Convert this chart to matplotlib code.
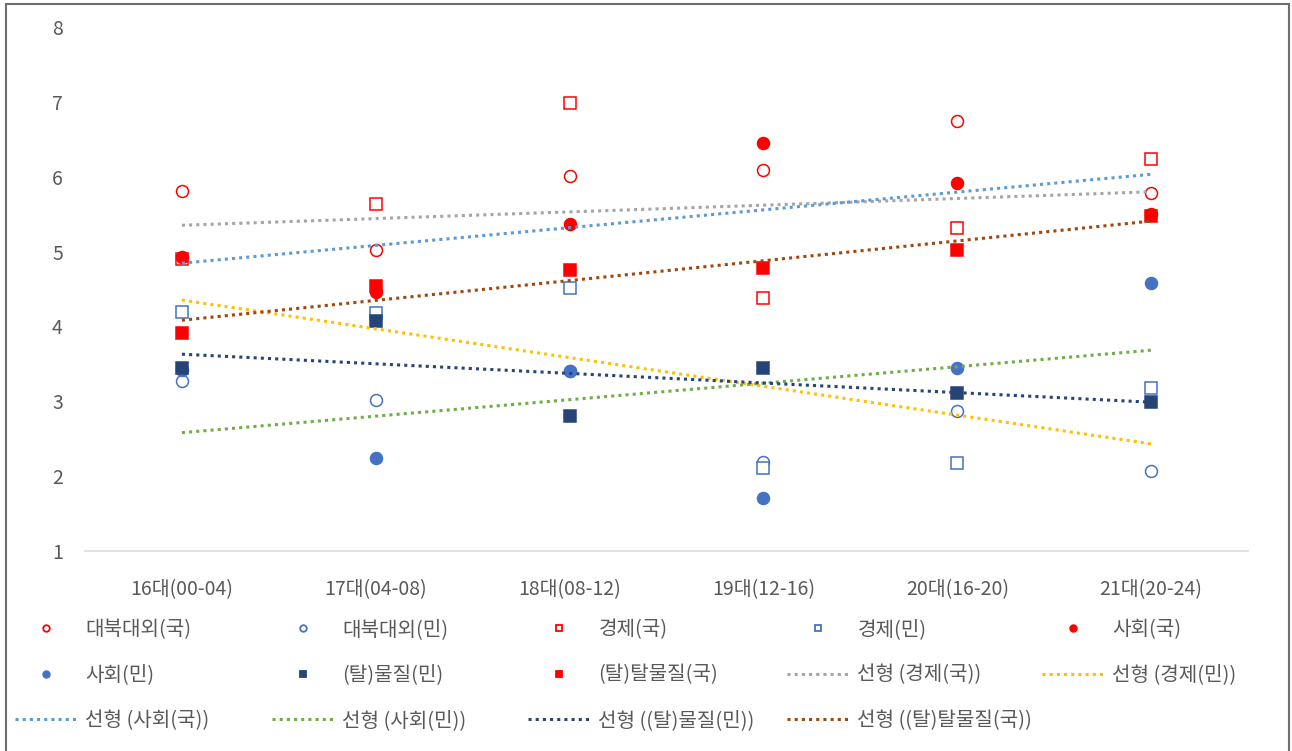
import numpy as np
import matplotlib
matplotlib.use("Agg")
import matplotlib.pyplot as plt
from matplotlib.lines import Line2D
from matplotlib.patches import Rectangle

plt.rcParams['font.family'] = ['Noto Sans CJK KR', 'DejaVu Sans']

# ---- data ----
categories = ["16대(00-04)", "17대(04-08)", "18대(08-12)", "19대(12-16)", "20대(16-20)", "21대(20-24)"]

north_foreign_kuk = [5.81, 5.02, 6.01, 6.09, 6.75, 5.78]   # 대북대외(국)
north_foreign_min = [3.27, 3.02, 3.40, 2.19, 2.87, 2.07]   # 대북대외(민)
economy_kuk = [4.90, 5.63, 6.99, 4.38, 5.31, 6.24]         # 경제(국)
economy_min = [4.19, 4.18, 4.51, 2.11, 2.18, 3.18]         # 경제(민)
social_kuk = [4.93, 4.46, 5.37, 6.45, 5.92, 5.50]          # 사회(국)
social_min = [3.42, 2.24, 3.40, 1.71, 3.44, 4.58]          # 사회(민)
material_min = [3.44, 4.07, 2.80, 3.44, 3.11, 2.99]        # (탈)물질(민)
postmaterial_kuk = [3.91, 4.54, 4.75, 4.78, 5.02, 5.47]    # (탈)탈물질(국)

RED = "#FF0000"
BLUE = "#4472C4"
NAVY = "#264478"
TEXT = "#595959"

W, H = 1292, 751
fig = plt.figure(figsize=(W / 100, H / 100), dpi=100)
ax = fig.add_axes([85 / W, (H - 551) / H, (1248 - 85) / W, (551 - 27) / H])

x = np.arange(len(categories))
ms = 8.6
mew = 1.1

scatter_series = [
    ("대북대외(국)", north_foreign_kuk, dict(marker="o", mfc="white", mec=RED)),
    ("대북대외(민)", north_foreign_min, dict(marker="o", mfc="white", mec=BLUE)),
    ("경제(국)", economy_kuk, dict(marker="s", mfc="white", mec=RED)),
    ("경제(민)", economy_min, dict(marker="s", mfc="white", mec=BLUE)),
    ("사회(국)", social_kuk, dict(marker="o", mfc=RED, mec=RED)),
    ("사회(민)", social_min, dict(marker="o", mfc=BLUE, mec=BLUE)),
    ("(탈)물질(민)", material_min, dict(marker="s", mfc=NAVY, mec=NAVY)),
    ("(탈)탈물질(국)", postmaterial_kuk, dict(marker="s", mfc=RED, mec=RED)),
]

handles, labels = [], []
for i, (name, vals, st) in enumerate(scatter_series):
    ax.plot(x, vals, linestyle="none", markersize=ms, markeredgewidth=mew,
            zorder=3 + i * 0.01, **st)
    handles.append(Line2D([], [], linestyle="none", markersize=ms * 0.55,
                          markeredgewidth=1.3, **st))
    labels.append(name)

# linear trend lines
trend_series = [
    ("선형 (경제(국))", economy_kuk, "#A5A5A5"),
    ("선형 (경제(민))", economy_min, "#FFC000"),
    ("선형 (사회(국))", social_kuk, "#5B9BD5"),
    ("선형 (사회(민))", social_min, "#70AD47"),
    ("선형 ((탈)물질(민))", material_min, NAVY),
    ("선형 ((탈)탈물질(국))", postmaterial_kuk, "#9E480E"),
]
dot = (0, (1, 1.35))
for name, vals, col in trend_series:
    k, b = np.polyfit(x, vals, 1)
    ax.plot(x, k * x + b, color=col, lw=2.2, linestyle=dot,
            dash_capstyle="butt", zorder=5)
    handles.append(Line2D([], [], color=col, lw=2.2, linestyle=dot,
                          dash_capstyle="butt"))
    labels.append(name)

ax.set_xlim(-0.5, len(categories) - 0.5)
ax.set_ylim(1, 8)
ax.set_yticks(range(1, 9))
ax.set_xticks(x)
ax.set_xticklabels(categories)
for s in ["top", "right", "left"]:
    ax.spines[s].set_visible(False)
ax.spines["bottom"].set_color("#D9D9D9")
ax.spines["bottom"].set_linewidth(1.1)
ax.tick_params(axis="both", length=0, labelsize=14, labelcolor=TEXT)
ax.tick_params(axis="y", pad=16)
ax.tick_params(axis="x", pad=20)

# legend laid out in a 5-column grid, filled row by row
col_left = [15, 272, 528, 787, 1042]
fs_leg = 14.5
for c in range(5):
    idx = [i for i in (c, c + 5, c + 10) if i < len(handles)]
    fig.legend([handles[i] for i in idx], [labels[i] for i in idx],
               loc="upper left", bbox_to_anchor=(col_left[c] / W, (H - 619) / H),
               frameon=False, fontsize=fs_leg, labelcolor=TEXT,
               handlelength=3.1, handletextpad=0.4, labelspacing=1.22,
               borderpad=0, borderaxespad=0)

# outer chart border
fig.patches.append(Rectangle((6 / W, -0.01), (1289 - 6) / W, (H - 4) / H + 0.01,
                             transform=fig.transFigure, fill=False,
                             edgecolor="#6E6E6E", lw=1.5))

fig.savefig("out.png", dpi=100)
